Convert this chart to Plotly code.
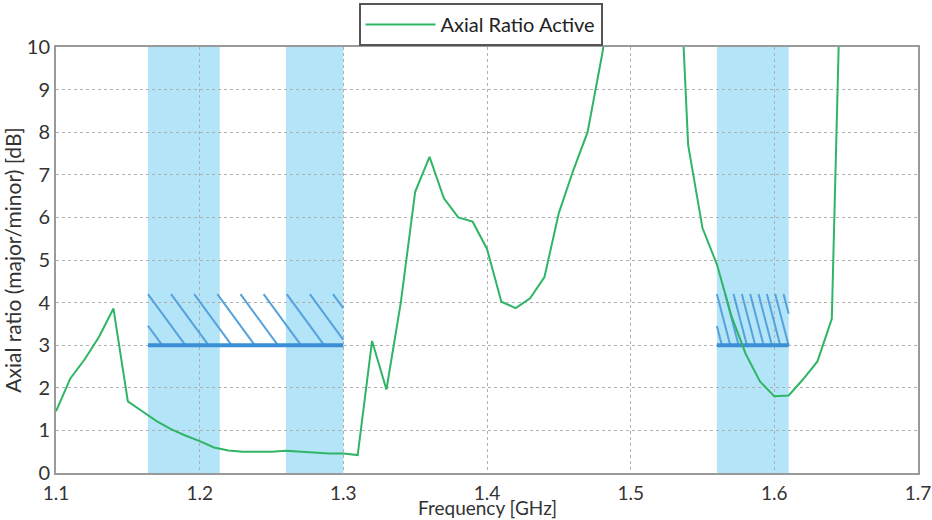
import plotly.graph_objects as go

# ---- data ----
freq_ghz = [1.10, 1.11, 1.12, 1.13, 1.14, 1.15, 1.16, 1.17, 1.18, 1.19,
            1.20, 1.21, 1.22, 1.23, 1.24, 1.25, 1.26, 1.27, 1.28, 1.29,
            1.30, 1.31, 1.32, 1.33, 1.34, 1.35, 1.36, 1.37, 1.38, 1.39,
            1.40, 1.41, 1.42, 1.43, 1.44, 1.45, 1.46, 1.47, 1.48, 1.49,
            1.50, 1.51, 1.52, 1.53, 1.54, 1.55, 1.56, 1.57, 1.58, 1.59,
            1.60, 1.61, 1.62, 1.63, 1.64, 1.65]
axial_ratio_db = [1.45, 2.22, 2.67, 3.20, 3.86, 1.68, 1.45, 1.22, 1.03, 0.88,
                  0.75, 0.60, 0.53, 0.50, 0.50, 0.50, 0.52, 0.50, 0.47, 0.46,
                  0.46, 0.42, 3.10, 1.96, 4.00, 6.60, 7.42, 6.45, 6.00, 5.90,
                  5.26, 4.02, 3.87, 4.10, 4.60, 6.10, 7.10, 8.00, 9.80, 12.0,
                  14.0, 16.0, 16.0, 15.0, 7.70, 5.75, 4.90, 3.70, 2.80, 2.15,
                  1.80, 1.82, 2.20, 2.62, 3.62, 17.0]

# GNSS bands (GHz)
band_starts = [1.164, 1.260, 1.560]
band_ends = [1.214, 1.300, 1.610]

# spec-limit regions: (start, end, limit dB)
spec_starts = [1.164, 1.560]
spec_ends = [1.300, 1.610]
spec_limit = [3.0, 3.0]

x_ticks = [1.1, 1.2, 1.3, 1.4, 1.5, 1.6, 1.7]
x_tick_labels = ["1.1", "1.2", "1.3", "1.4", "1.5", "1.6", "1.7"]
y_ticks = list(range(0, 11))
y_tick_labels = [str(v) for v in y_ticks]
x_title = "Frequency [GHz]"
y_title = "Axial ratio (major/minor) [dB]"

# ---- style ----
GREEN = "#2fb566"
BAND = "#b4e4f7"
HATCH = "#55a2dc"
LIMIT = "#3a8fd6"
FONT = "Lato"

fig = go.Figure()

# hatch pattern for spec regions
hatch_spacing = [0.0161, 0.0058]
hatch_dx = [0.026, 0.0093]
hatch_height = 1.2
hx, hy = [], []
for s, e, lim, sp, dx in zip(spec_starts, spec_ends, spec_limit, hatch_spacing, hatch_dx):
    top = lim + hatch_height
    k = -3
    while True:
        x0 = s + k * sp
        if x0 > e:
            break
        x1 = x0 + dx
        xa, xb = max(x0, s), min(x1, e)
        if xb > xa:
            hx += [xa, xb, None]
            hy += [top - (xa - x0) / dx * hatch_height,
                   top - (xb - x0) / dx * hatch_height, None]
        k += 1

fig.add_trace(go.Scatter(x=hx, y=hy, mode="lines", line=dict(color=HATCH, width=2),
                         showlegend=False, hoverinfo="skip"))

lx, ly = [], []
for s, e, lim in zip(spec_starts, spec_ends, spec_limit):
    lx += [s, e, None]
    ly += [lim, lim, None]
fig.add_trace(go.Scatter(x=lx, y=ly, mode="lines", line=dict(color=LIMIT, width=4),
                         showlegend=False, hoverinfo="skip"))

fig.add_trace(go.Scatter(x=freq_ghz, y=axial_ratio_db, mode="lines",
                         name="Axial Ratio Active",
                         line=dict(color=GREEN, width=2)))

for s, e in zip(band_starts, band_ends):
    fig.add_shape(type="rect", xref="x", yref="y", x0=s, x1=e, y0=0, y1=10,
                  fillcolor=BAND, line=dict(width=0), layer="below")

fig.add_annotation(text=x_title, xref="paper", yref="paper", x=0.5, y=-47 / 426,
                   xanchor="center", yanchor="bottom", showarrow=False, yshift=0,
                   font=dict(size=19, family=FONT, color="#333333"), borderpad=0)

fig.update_layout(
    width=932, height=520,
    margin=dict(l=56, r=14, t=47, b=47, autoexpand=False),
    paper_bgcolor="white", plot_bgcolor="white",
    font=dict(family=FONT, color="#333333", size=18),
    showlegend=True,
    legend=dict(x=0.4925, xanchor="center", y=1.1033, yanchor="top",
                bordercolor="#555555", borderwidth=2, bgcolor="white",
                font=dict(size=20, family=FONT, color="#222222"),
                itemwidth=70, orientation="h"),
    xaxis=dict(range=[1.1, 1.7], tickvals=x_ticks, ticktext=x_tick_labels,
               showgrid=True, gridcolor="#b0b0b0", griddash="dot", gridwidth=1.3,
               showline=True, linecolor="#9a9a9a", linewidth=2, mirror=True,
               ticks="", zeroline=False, automargin=False, ticklabelstandoff=2,
               tickfont=dict(size=19)),
    yaxis=dict(range=[0, 10], tickvals=y_ticks, ticktext=y_tick_labels,
               showgrid=True, gridcolor="#b0b0b0", griddash="dot", gridwidth=1.3,
               showline=True, linecolor="#9a9a9a", linewidth=2, mirror=True,
               ticks="", zeroline=False, automargin=False,
               title=dict(text=y_title, font=dict(size=21), standoff=2),
               tickfont=dict(size=20)),
)

fig.write_html("out.html", config={"displayModeBar": False},
               post_script="document.body.style.margin='0';")
